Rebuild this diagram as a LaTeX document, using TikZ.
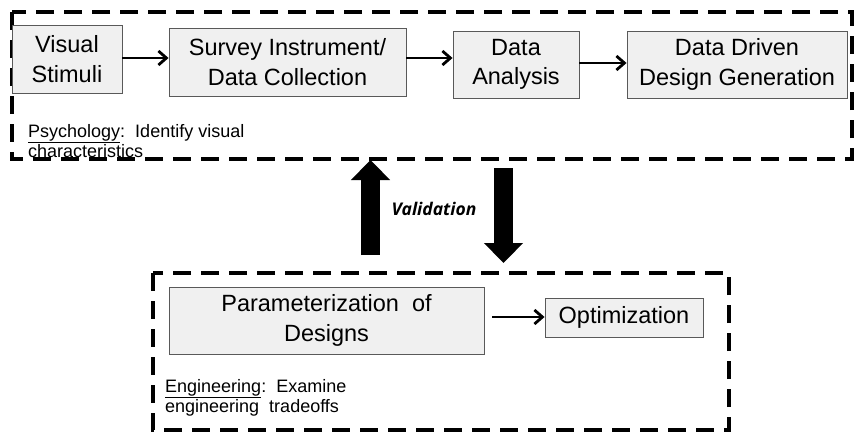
\documentclass[tikz,border=0pt]{standalone}
\usepackage{fontspec}
\setmainfont{Liberation Sans}
\newfontfamily\valfont{Open Sans}
\usetikzlibrary{arrows.meta,calc}
\begin{document}
\begin{tikzpicture}[x=1pt,y=-1pt,
  stagebox/.style={draw=black!65,line width=0.9pt,fill=black!6,inner sep=0pt,align=center,
    font=\fontsize{23.5}{29.5}\selectfont},
  grouprect/.style={draw=black,line width=4.5pt,dash pattern=on 18pt off 10pt},
  flow/.style={line width=2.8pt,-{Straight Barb[length=8pt,width=14pt,line width=2.8pt]}},
  blockarrow/.style={line width=19pt,-{Triangle[length=20pt,width=38pt]}},
  note/.style={inner sep=0pt,align=left,anchor=base west,font=\fontsize{18}{19.5}\selectfont}
]
\useasboundingbox (0,0) rectangle (858,433);
% group frames
\draw[grouprect] (12,12) rectangle (852,159);
\draw[grouprect] (153,273) rectangle (729,430);
% top row
\node[stagebox,minimum width=110pt,minimum height=68pt] (vs) at (67,59) {Visual\\Stimuli};
\node[stagebox,minimum width=237pt,minimum height=68pt] (sv) at (287.5,62) {Survey Instrument/\\Data Collection};
\node[stagebox,minimum width=126pt,minimum height=67pt] (da) at (516,64.5) {Data\\Analysis};
\node[stagebox,minimum width=220pt,minimum height=67pt] (dd) at (737,64.5) {Data Driven\\Design Generation};
\draw[flow] (vs.east |- 0,58) -- (sv.west |- 0,58);
\draw[flow] (sv.east |- 0,58) -- (da.west |- 0,58);
\draw[flow] (da.east |- 0,63) -- (dd.west |- 0,63);
\node[note] (psy) at (28,157) {\underline{Psychology}:\ \ Identify visual\\characteristics};
% bottom row
\node[stagebox,minimum width=315pt,minimum height=67pt] (pd) at (326.5,320.5) {Parameterization\ \ of\\Designs};
\node[stagebox,minimum width=158pt,minimum height=39pt] (op) at (624,317.5) {Optimization};
\draw[flow,shorten <=8pt] (pd.east |- 0,317) -- (op.west |- 0,317);
\node[note] (eng) at (165,412) {\underline{Engineering}:\ \ Examine\\engineering\ \ tradeoffs};
% validation arrows
\coordinate (upS) at (370.5,255);
\coordinate (upT) at (370.5,160);
\coordinate (dnS) at (503.5,168);
\coordinate (dnT) at (503.5,263);
\draw[blockarrow] (upS) -- (upT);
\draw[blockarrow] (dnS) -- (dnT);
\node[font=\valfont\bfseries\itshape\fontsize{17.5}{20}\selectfont] (val) at (434,209) {Validation};
\end{tikzpicture}
\end{document}
